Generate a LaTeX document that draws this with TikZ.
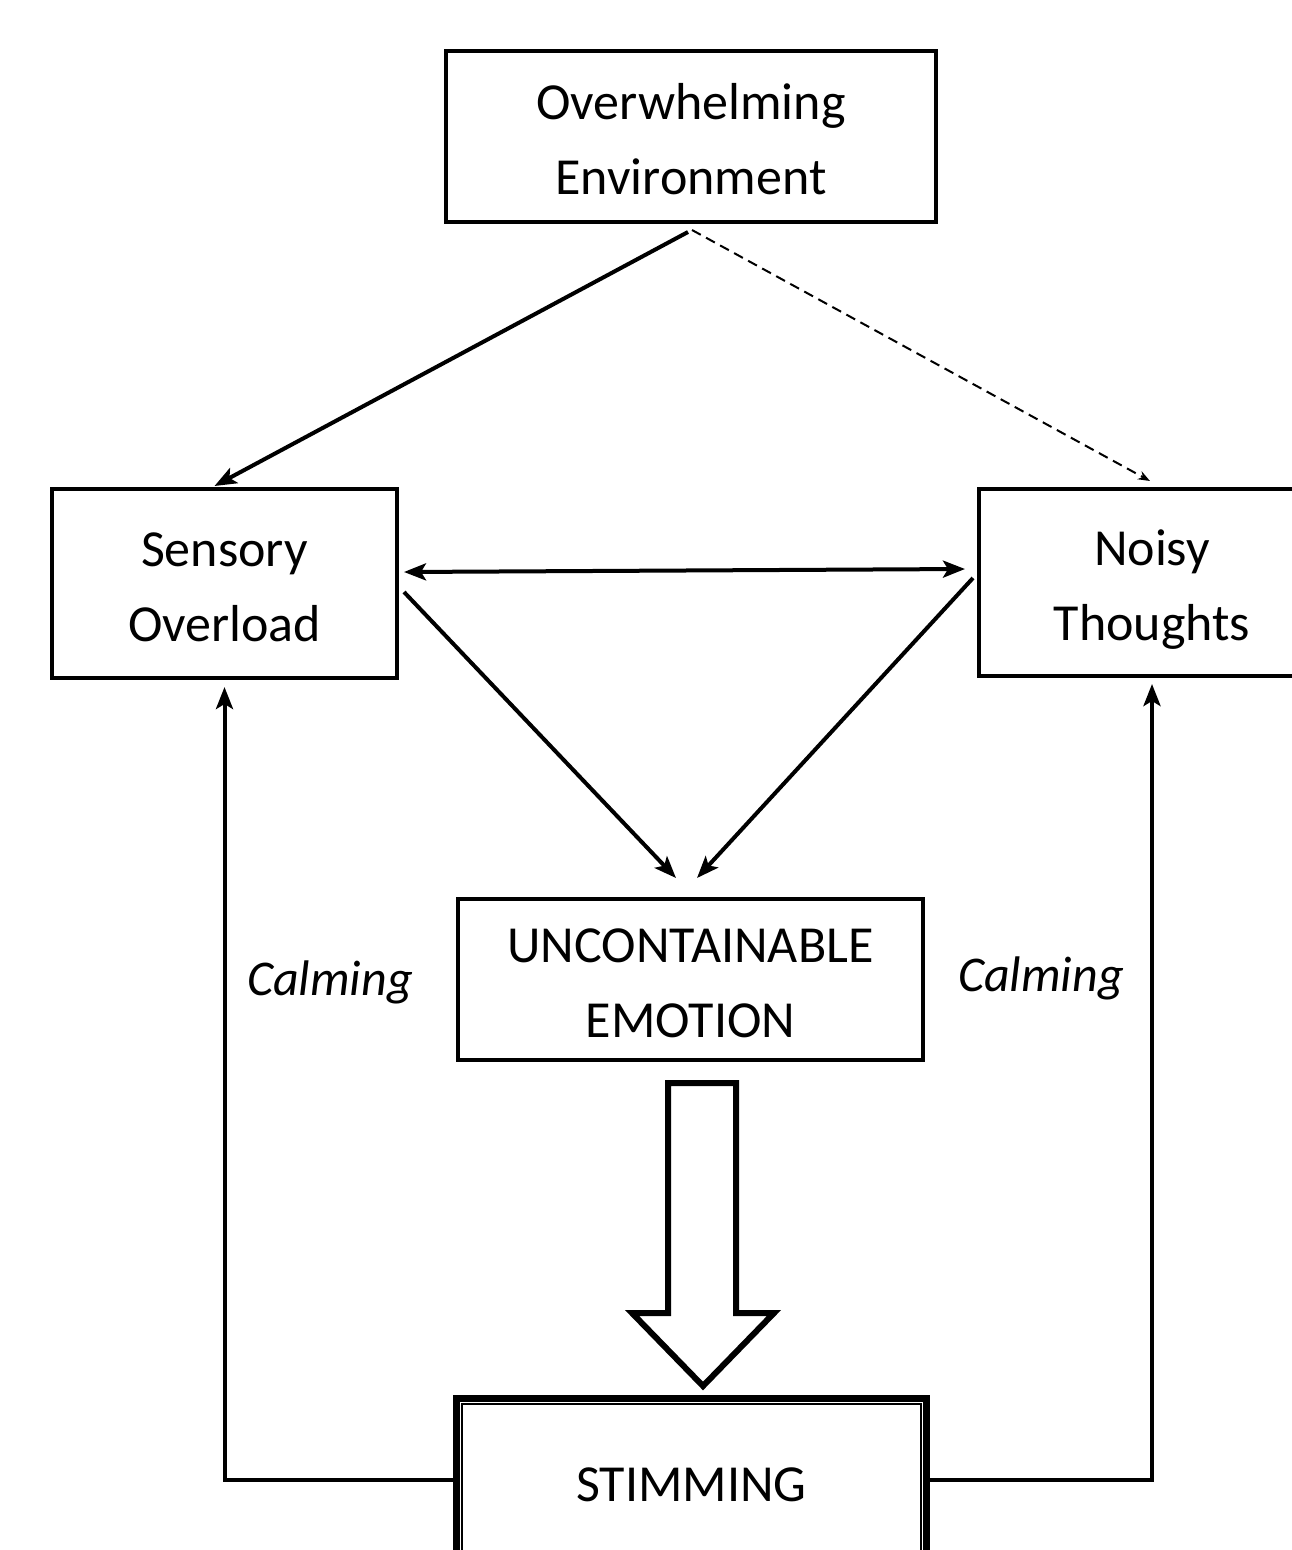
\documentclass[tikz,border=0pt]{standalone}
\usepackage{fontspec}
\setmainfont{Carlito}
\usetikzlibrary{arrows.meta}
\newcommand{\topstr}{\rule{0pt}{51pt}}
\newcommand{\botstr}{\rule[-10pt]{0pt}{0pt}}
\begin{document}
\begin{tikzpicture}[x=1pt,y=-1pt,
  box/.style={draw,line width=4pt,inner sep=0pt,align=center,font=\fontsize{52}{75}\selectfont},
  arr/.style={line width=4pt,-{Stealth[length=22pt,width=17pt,inset=5pt]}},
  dbl/.style={line width=4pt,{Stealth[length=22pt,width=17pt,inset=5pt]}-{Stealth[length=22pt,width=17pt,inset=5pt]}},
  dsh/.style={line width=2pt,dash pattern=on 10pt off 6pt,-{Stealth[length=12pt,width=9pt]}},
  lbl/.style={font=\fontsize{50}{60}\selectfont\itshape,inner sep=0pt}]
\useasboundingbox (0,0) rectangle (1292,1550);
\clip (0,0) rectangle (1292,1550);
\fill[white] (0,0) rectangle (1292,1550);

\node[box,minimum width=490pt,minimum height=171pt] (ow) at (691,136.5) {\topstr Overwhelming\\Environment\botstr};
\node[box,minimum width=345pt,minimum height=189pt] (so) at (224.5,583.5) {\topstr Sensory\\Overload\botstr};
\node[box,minimum width=346pt,minimum height=187pt] (nt) at (1152,582.5) {\topstr Noisy\\Thoughts\botstr};
\node[box,minimum width=465pt,minimum height=161pt] (ue) at (690.5,979.5) {\topstr UNCONTAINABLE\\EMOTION\botstr};
\node[box,line width=7pt,minimum width=470pt,minimum height=173pt] (st) at (691.5,1485) {STIMMING};
\draw[line width=2pt] ([xshift=9pt,yshift=-9pt]st.north west) rectangle ([xshift=-9pt,yshift=9pt]st.south east);

\node[lbl] (cl) at (330,982) {Calming};
\node[lbl] (cr) at (1041,978) {Calming};

\draw[arr] ([xshift=-3pt,yshift=-8pt]ow.south) -- ([xshift=-10pt,yshift=1pt]so.north);
\draw[dsh] ([xshift=1pt,yshift=-6pt]ow.south) -- ([xshift=-2pt,yshift=6pt]nt.north);
\draw[dbl] ([xshift=5pt,yshift=11.5pt]so.east) -- ([xshift=-12pt,yshift=13.5pt]nt.west);
\draw[arr] ([xshift=5pt,yshift=-8.5pt]so.east) -- ([xshift=-14.5pt,yshift=19pt]ue.north);
\draw[arr] ([xshift=-4pt,yshift=4.5pt]nt.west) -- ([xshift=6.5pt,yshift=19pt]ue.north);
\draw[arr] ([yshift=5pt]st.west) -| ([yshift=-7pt]so.south);
\draw[arr] ([yshift=5pt]st.east) -| ([yshift=-6pt]nt.south);

\draw[line width=6pt,line join=miter,fill=white]
  (668,1083) -- (736,1083) -- (736,1313) -- (774,1313) -- (703,1386) -- (632,1313) -- (668,1313) -- cycle;
\end{tikzpicture}
\end{document}
